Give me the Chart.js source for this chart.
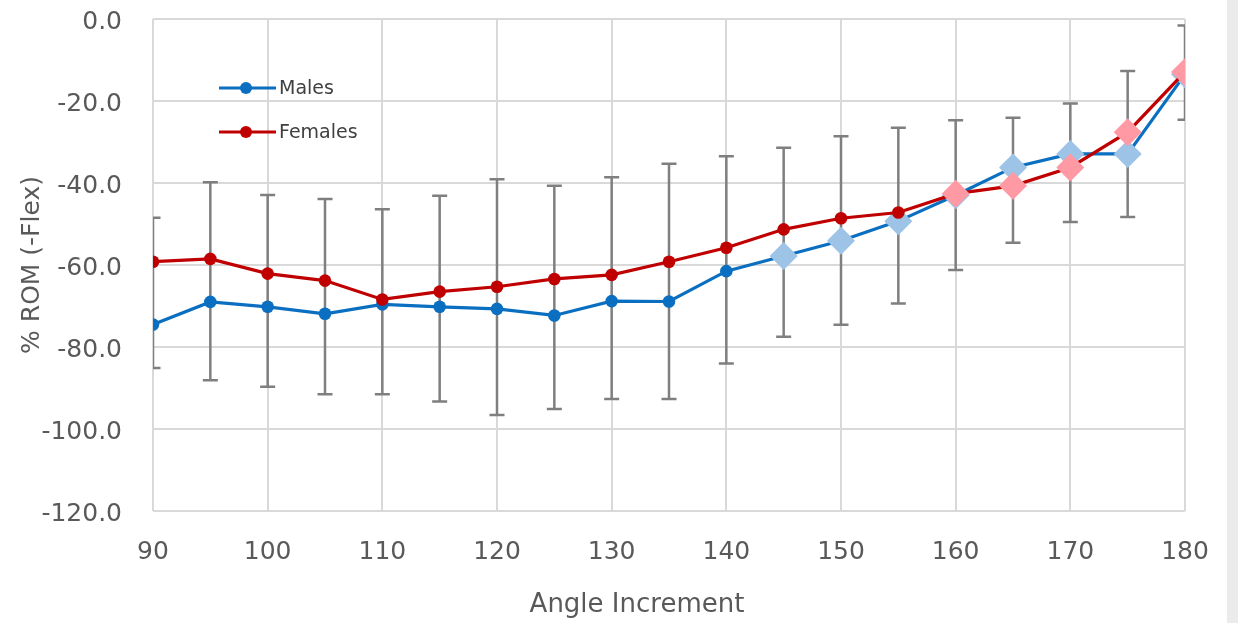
<!DOCTYPE html>
<html>
<head>
<meta charset="utf-8">
<script src="https://cdn.jsdelivr.net/npm/chart.js@4.4.1/dist/chart.umd.min.js"></script>
<style>
  html, body { margin: 0; padding: 0; background: #ffffff; }
  #wrap { position: relative; width: 1238px; height: 623px; overflow: hidden; }
  #side { position: absolute; left: 1227px; top: 0; width: 11px; height: 623px; background: #ebebe9; }
</style>
</head>
<body>
<div id="wrap">
  <canvas id="romChart" width="1238" height="623"></canvas>
  <div id="side"></div>
</div>
<script>
// angle increments (deg)
const angles = [90, 95, 100, 105, 110, 115, 120, 125, 130, 135, 140, 145, 150, 155, 160, 165, 170, 175, 180];

// mean % ROM (-Flex)
const males   = [-74.5, -69.0, -70.2, -71.9, -69.6, -70.2, -70.7, -72.3, -68.8, -68.9, -61.5, -57.8, -54.1, -49.3, -43.0, -36.2, -32.9, -32.9, -13.5];
const females = [-59.2, -58.5, -62.1, -63.8, -68.4, -66.5, -65.3, -63.4, -62.4, -59.2, -55.8, -51.3, -48.6, -47.2, -42.6, -40.7, -36.2, -27.6, -12.9];

// error bar extents (pooled)
const errLow  = [-85.1, -88.1, -89.7, -91.5, -91.5, -93.3, -96.6, -95.1, -92.7, -92.7, -84.0, -77.5, -74.6, -69.4, -61.2, -54.6, -49.5, -48.3, -24.6];
const errHigh = [-48.5, -39.8, -42.9, -43.9, -46.4, -43.1, -39.1, -40.7, -38.6, -35.3, -33.5, -31.4, -28.6, -26.5, -24.7, -24.1, -20.6, -12.7, -1.6];

// angles flagged as significant
const sigMales   = [145, 150, 155, 160, 165, 170, 175, 180];
const sigFemales = [160, 165, 170, 175, 180];

const yTicks = [0, -20, -40, -60, -80, -100, -120];
const xTicks = [90, 100, 110, 120, 130, 140, 150, 160, 170, 180];

const FONT = "'DejaVu Sans', sans-serif";
const TEXT = '#595959';

const series = [
    { label: 'Males',   data: males,   line: '#0a6fc0', sigFill: '#9dc3e6', sig: sigMales,   order: 2 },
    { label: 'Females', data: females, line: '#c00000', sigFill: '#ff9aa5', sig: sigFemales, order: 1 }
];

// grey error bars, drawn under the lines
const errorBars = {
    id: 'errorBars',
    beforeDatasetsDraw(chart) {
        const { ctx, chartArea: a, scales: { x, y } } = chart;
        ctx.save();
        ctx.beginPath();
        ctx.rect(a.left, a.top, a.right - a.left, a.bottom - a.top);
        ctx.clip();
        ctx.strokeStyle = '#7f7f7f';
        ctx.lineWidth = 2.5;
        angles.forEach((ang, i) => {
            const px = x.getPixelForValue(ang);
            const lo = y.getPixelForValue(errLow[i]);
            const hi = y.getPixelForValue(errHigh[i]);
            ctx.beginPath();
            ctx.moveTo(px, lo); ctx.lineTo(px, hi);
            ctx.moveTo(px - 7.5, lo); ctx.lineTo(px + 7.5, lo);
            ctx.moveTo(px - 7.5, hi); ctx.lineTo(px + 7.5, hi);
            ctx.stroke();
        });
        ctx.restore();
    }
};

// line + marker legend inside the plot, and the x axis title
const annotations = {
    id: 'annotations',
    afterDraw(chart) {
        const ctx = chart.ctx;
        ctx.save();
        ctx.font = '19px ' + FONT;
        ctx.textBaseline = 'middle';
        series.forEach((s, i) => {
            const yy = 88 + i * 44;
            ctx.strokeStyle = s.line;
            ctx.lineWidth = 3;
            ctx.beginPath();
            ctx.moveTo(219, yy); ctx.lineTo(276, yy);
            ctx.stroke();
            ctx.fillStyle = s.line;
            ctx.beginPath();
            ctx.arc(246, yy, 6, 0, Math.PI * 2);
            ctx.fill();
            ctx.fillStyle = '#404040';
            ctx.fillText(s.label, 279, yy + 1);
        });
        ctx.font = '26px ' + FONT;
        ctx.fillStyle = TEXT;
        ctx.textAlign = 'center';
        ctx.fillText('Angle Increment', 637, 605);
        ctx.restore();
    }
};

const isSig = (s, c) => s.sig.includes(angles[c.dataIndex]);

new Chart(document.getElementById('romChart'), {
    type: 'line',
    data: {
        datasets: series.map(s => ({
            label: s.label,
            data: angles.map((a, i) => ({ x: a, y: s.data[i] })),
            order: s.order,
            borderColor: s.line,
            borderWidth: 3.2,
            tension: 0,
            pointStyle: c => isSig(s, c) ? 'rectRot' : 'circle',
            pointRadius: c => isSig(s, c) ? 14 : 6.3,
            pointHoverRadius: c => isSig(s, c) ? 14 : 6.3,
            pointBackgroundColor: c => isSig(s, c) ? s.sigFill : s.line,
            pointBorderWidth: 0
        }))
    },
    options: {
        responsive: false,
        animation: false,
        devicePixelRatio: 1,
        layout: { autoPadding: false, padding: { top: 19, right: 53, bottom: 0, left: 0 } },
        plugins: {
            legend: { display: false },
            tooltip: { enabled: false }
        },
        scales: {
            x: {
                type: 'linear',
                min: 90,
                max: 180,
                afterBuildTicks: s => { s.ticks = xTicks.map(v => ({ value: v })); },
                afterFit: s => {
                    s.height = 112;
                    s.paddingLeft = 0;
                    s.paddingRight = 0;
                },
                grid: { color: '#d9d9d9', lineWidth: 2, drawTicks: false },
                border: { display: false },
                ticks: {
                    color: TEXT,
                    padding: 26,
                    font: { family: FONT, size: 25 },
                    maxRotation: 0
                }
            },
            y: {
                min: -120,
                max: 0,
                afterBuildTicks: s => { s.ticks = yTicks.map(v => ({ value: v })); },
                afterFit: s => {
                    s.width = 153;
                    s.paddingTop = 0;
                    s.paddingBottom = 0;
                },
                grid: { color: '#d9d9d9', lineWidth: 2, drawTicks: false },
                border: { display: false },
                ticks: {
                    color: TEXT,
                    padding: 31,
                    labelOffset: 3,
                    font: { family: FONT, size: 25 },
                    callback: v => v.toFixed(1)
                },
                title: {
                    display: true,
                    text: '% ROM (-Flex)',
                    color: TEXT,
                    font: { family: FONT, size: 25 },
                    padding: { top: 17 }
                }
            }
        }
    },
    plugins: [errorBars, annotations]
});
</script>
</body>
</html>
